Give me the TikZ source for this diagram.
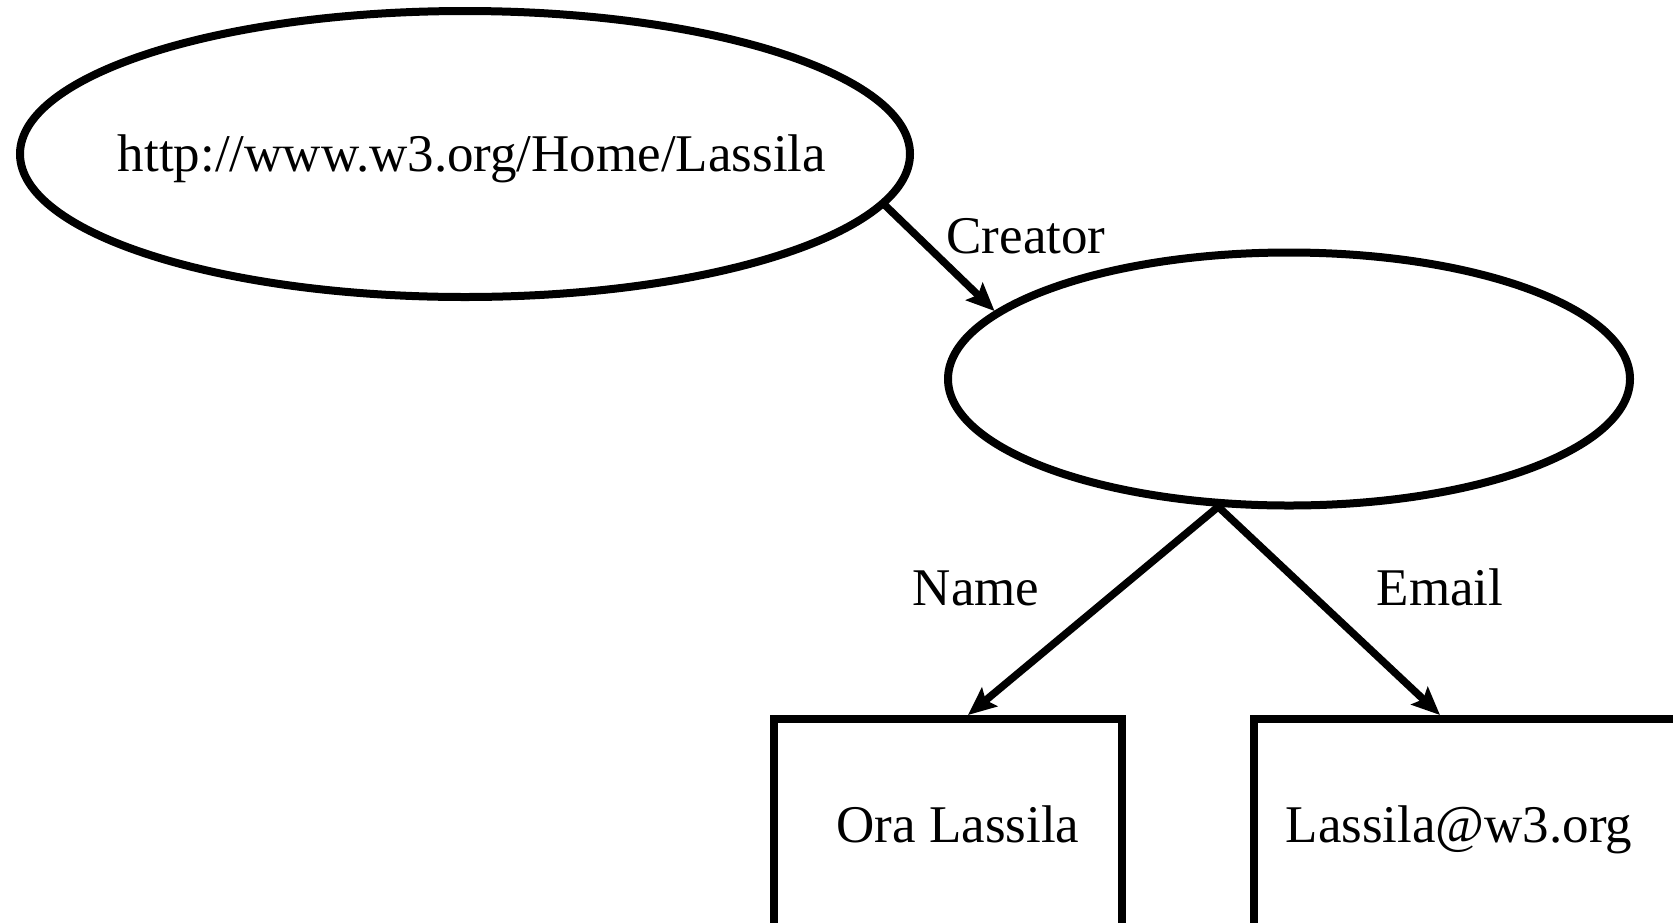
\documentclass[tikz,border=0pt]{standalone}
\usepackage{fontspec}
\setmainfont{Liberation Serif}
\usetikzlibrary{shapes.geometric,arrows.meta}
\begin{document}
\begin{tikzpicture}[x=1pt,y=-1pt,
  res/.style={ellipse,draw,line width=8pt,inner sep=0pt},
  lit/.style={rectangle,draw,line width=8pt,inner sep=0pt,anchor=north west},
  txt/.style={font=\fontsize{53}{60}\selectfont,inner sep=0pt,anchor=base},
  arr/.style={line width=7.5pt,-{Stealth[length=28pt,width=24pt,inset=5pt]}}]
\useasboundingbox (0,0) rectangle (1673,922);
\clip (0,0) rectangle (1673,922);
\node[res,minimum width=890pt,minimum height=286pt] (e1) at (465,154) {};
\node[txt] (t1) at (472,171) {http://www.w3.org/Home/Lassila};
\node[res,minimum width=682pt,minimum height=253pt] (e2) at (1289,379) {};
\node[lit,minimum width=348pt,minimum height=400pt] (b1) at (770,715) {};
\node[lit,minimum width=600pt,minimum height=400pt] (b2) at (1250,715) {};
\node[txt] (t2) at (958,842) {Ora Lassila};
\node[txt] (t3) at (1459,842) {Lassila@w3.org};
\node[txt] (l1) at (1026,253) {Creator};
\node[txt] (l2) at (976,605) {Name};
\node[txt] (l3) at (1440,605) {Email};
\draw[arr] (e1.353) -- (e2.167);
\draw[arr] (e2.241) -- ([xshift=20pt]b1.north);
\draw[arr] (e2.241) -- ([xshift=190pt]b2.north west);
\end{tikzpicture}
\end{document}
